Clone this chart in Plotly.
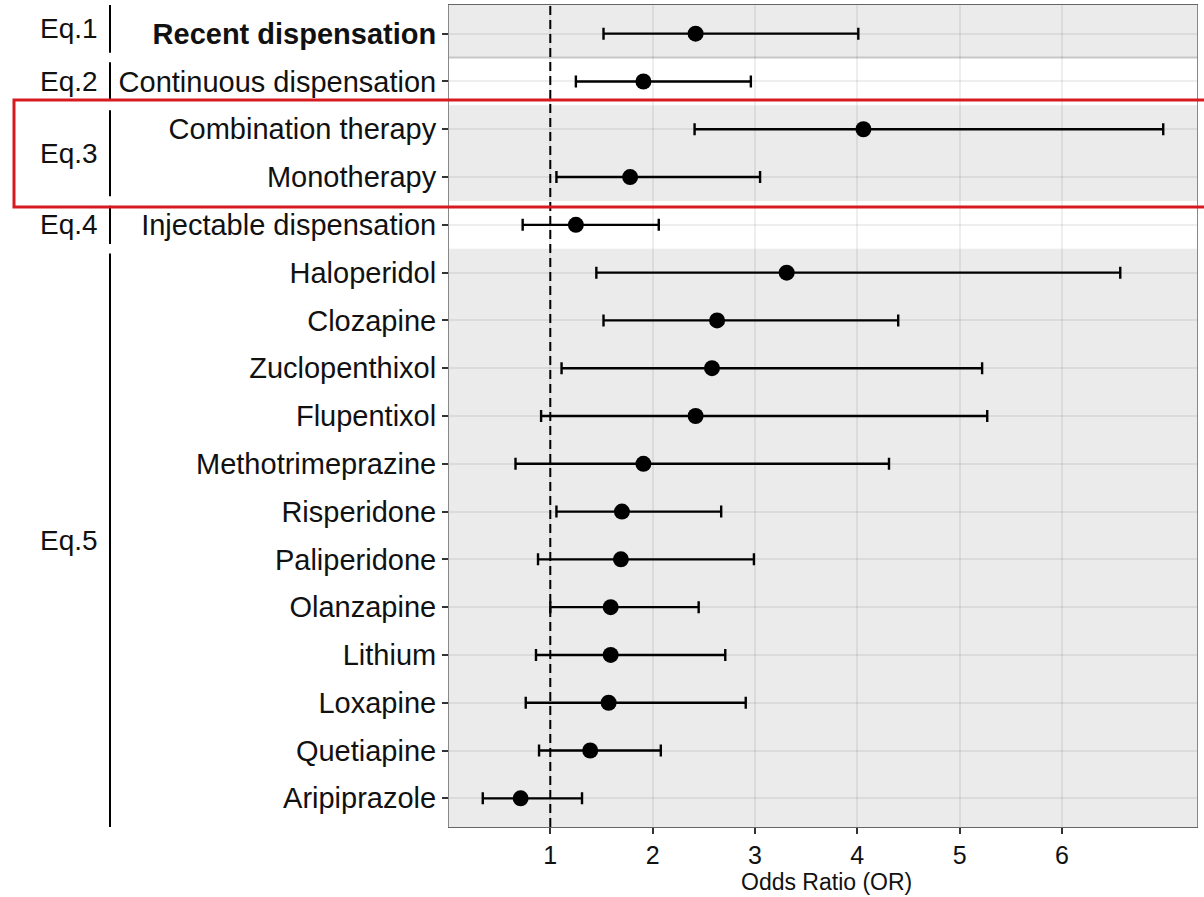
import plotly.graph_objects as go

# ---- data ----
labels = ["Recent dispensation", "Continuous dispensation", "Combination therapy",
          "Monotherapy", "Injectable dispensation", "Haloperidol", "Clozapine",
          "Zuclopenthixol", "Flupentixol", "Methotrimeprazine", "Risperidone",
          "Paliperidone", "Olanzapine", "Lithium", "Loxapine", "Quetiapine",
          "Aripiprazole"]
odds_ratio = [2.42, 1.91, 4.06, 1.78, 1.25, 3.31, 2.63, 2.58, 2.42, 1.91, 1.70,
              1.69, 1.59, 1.59, 1.57, 1.39, 0.71]
ci_low = [1.52, 1.25, 2.41, 1.06, 0.73, 1.45, 1.52, 1.11, 0.91, 0.66, 1.06,
          0.88, 1.00, 0.86, 0.76, 0.89, 0.34]
ci_high = [4.01, 2.96, 6.99, 3.05, 2.06, 6.57, 4.40, 5.22, 5.27, 4.31, 2.67,
           2.99, 2.45, 2.71, 2.91, 2.08, 1.31]
groups = ["Eq.1", "Eq.2", "Eq.3", "Eq.4", "Eq.5"]
group_sizes = [1, 1, 2, 1, 12]
x_ticks = [1, 2, 3, 4, 5, 6]

# ---- geometry (pixels of 1204x897 page) ----
W, H = 1204, 897
L, R, T, B = 449, 7, 5, 70
pw, ph = W - L - R, H - T - B
ymin, ymax = -0.6, len(labels) - 1 + 0.6

def px_to_paper_x(px):
    return (px - L) / pw

def px_to_paper_y(py):
    return 1 - (py - T) / ph

ypos = list(range(len(labels)))
ticktext = ["<b>%s</b>" % labels[0]] + labels[1:]

fig = go.Figure()

shapes = []
# alternating bands
start = 0
for gi, n in enumerate(group_sizes):
    y0 = max(start - 0.5, ymin)
    y1 = min(start + n - 0.5, ymax)
    if gi == 0:
        y0 = ymin
    if gi == len(group_sizes) - 1:
        y1 = ymax
    if gi % 2 == 0:
        shapes.append(dict(type="rect", xref="paper", yref="y", x0=0, x1=1,
                           y0=y0, y1=y1, fillcolor="#ebebeb", line_width=0,
                           layer="below"))
    start += n
# separator line between Eq.1 and Eq.2
shapes.append(dict(type="line", xref="paper", yref="y", x0=0, x1=1,
                   y0=group_sizes[0] - 0.5, y1=group_sizes[0] - 0.5,
                   line=dict(color="#c8c8c8", width=2), layer="between"))
# reference line at OR = 1
shapes.append(dict(type="line", xref="x", yref="paper", x0=1, x1=1, y0=0, y1=1,
                   line=dict(color="black", width=2, dash="9px,5px"),
                   layer="between"))

# group bracket lines and labels
annotations = []
start = 0
for gi, (g, n) in enumerate(zip(groups, group_sizes)):
    y0 = start - 0.5 + 0.1
    y1 = start + n - 0.5 - 0.1
    if gi == 0:
        y0 = ymin
    if gi == len(groups) - 1:
        y1 = ymax
    shapes.append(dict(type="line", xref="paper", yref="y",
                       x0=px_to_paper_x(110), x1=px_to_paper_x(110),
                       y0=y0, y1=y1, line=dict(color="black", width=2)))
    annotations.append(dict(text=g, xref="paper", yref="y",
                            x=px_to_paper_x(100), y=(y0 + y1) / 2,
                            xanchor="right", yanchor="middle", showarrow=False,
                            font=dict(size=28, color="#111",
                                      family="Liberation Sans, Arial")))
    start += n

# red highlight rectangle
shapes.append(dict(type="rect", xref="paper", yref="paper",
                   x0=px_to_paper_x(14), x1=px_to_paper_x(1215),
                   y0=px_to_paper_y(207), y1=px_to_paper_y(100),
                   line=dict(color="#d71a1f", width=3), fillcolor="rgba(0,0,0,0)"))

# axis title
annotations.append(dict(text="Odds Ratio (OR)", xref="paper", yref="paper",
                        x=px_to_paper_x(826), y=px_to_paper_y(882),
                        xanchor="center", yanchor="middle", showarrow=False,
                        font=dict(size=23, color="#111",
                                  family="Liberation Sans, Arial")))

fig.add_trace(go.Scatter(
    x=odds_ratio, y=ypos, mode="markers",
    marker=dict(size=16, color="black"),
    error_x=dict(type="data", symmetric=False,
                 array=[h - p for h, p in zip(ci_high, odds_ratio)],
                 arrayminus=[p - l for p, l in zip(odds_ratio, ci_low)],
                 color="black", thickness=2.4, width=6),
    showlegend=False, hoverinfo="skip"))

fig.update_layout(
    width=W, height=H,
    margin=dict(l=L, r=R, t=T, b=B, autoexpand=False),
    paper_bgcolor="white", plot_bgcolor="white",
    font=dict(family="Liberation Sans, Arial", color="#111"),
    shapes=shapes, annotations=annotations,
    xaxis=dict(range=[0.01, 7.32], tickvals=x_ticks, ticktext=[str(t) for t in x_ticks],
               showgrid=True, gridcolor="rgba(0,0,0,0.065)", gridwidth=2,
               zeroline=False, showline=True, linecolor="#666", linewidth=1,
               mirror=True, ticks="outside", ticklen=6, tickcolor="#333",
               tickwidth=1.5, tickfont=dict(size=25, color="#111"),
               automargin=False),
    yaxis=dict(range=[ymax, ymin], tickvals=ypos, ticktext=ticktext,
               showgrid=True, gridcolor="rgba(0,0,0,0.065)", gridwidth=2,
               zeroline=False, showline=True, linecolor="#888", linewidth=1,
               mirror=True, ticks="outside", ticklen=6, tickcolor="#333",
               tickwidth=1.5, tickfont=dict(size=29, color="#111"),
               automargin=False),
)

fig.write_html("out.html", config={"displayModeBar": False},
               post_script="document.body.style.margin='0';document.body.style.overflow='hidden';")
